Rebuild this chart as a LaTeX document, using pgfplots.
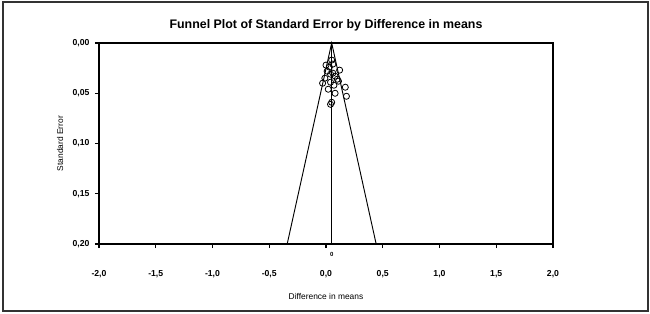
\documentclass[border=0pt]{standalone}
\usepackage{pgfplots}
\pgfplotsset{compat=1.18}
\usepackage{fontspec}
\setmainfont{Liberation Sans}
\begin{document}
\begin{tikzpicture}[x=0.75pt,y=0.75pt]
\begin{axis}[
  at={(0,0)}, anchor=south west,
  scale only axis,
  width=340.5pt, height=150.75pt,
  xmin=-2, xmax=2, ymin=0, ymax=0.2,
  y dir=reverse,
  axis line style={line width=1.1pt},
  xtick={-2,-1.5,...,2},
  ytick={0,0.05,0.1,0.15,0.2},
  tick align=outside,
  major tick length=3pt,
  tick style={black, line width=0.8pt},
  xtick pos=bottom, ytick pos=left,
  /pgf/number format/assume math mode=true,
  xticklabel style={font=\fontsize{6.5}{7}\selectfont\bfseries, anchor=center, yshift=-19.5pt,
    /pgf/number format/.cd, fixed, fixed zerofill, precision=1, use comma},
  yticklabel style={font=\fontsize{6.5}{7}\selectfont\bfseries, anchor=east, inner sep=0pt, xshift=-4pt,
    /pgf/number format/.cd, fixed, fixed zerofill, precision=2, use comma},
  scaled y ticks=false,
  xlabel={Difference in means},
  ylabel={Standard Error},
  xlabel style={font=\fontsize{6.3}{7}\selectfont, at={([yshift=-39pt]axis description cs:0.5,0)}, anchor=center},
  ylabel style={font=\fontsize{6.3}{7}\selectfont, at={([xshift=-29.25pt]axis description cs:0,0.5)}, anchor=center},
  title={Funnel Plot of Standard Error by Difference in means},
  title style={font=\fontsize{9.3}{10}\selectfont\bfseries, at={(axis description cs:0.5,1)}, anchor=center, yshift=7.5pt},
  clip=false,
]
\addplot[black, line width=0.7pt] coordinates {(-0.342,0.2) (0.05,0) (0.442,0.2)};
\addplot[black, line width=0.9pt] coordinates {(0.05,0) (0.05,0.2)};
\addplot[only marks, mark=o, mark size=2.3pt, mark options={black, line width=0.6pt}] coordinates {
(0.05,0.017) (0.00,0.022) (0.06,0.021) (0.03,0.024) (0.12,0.027) (0.01,0.028)
(0.04,0.031) (0.08,0.033) (0.06,0.030) (-0.01,0.035) (0.10,0.036) (-0.03,0.040)
(0.04,0.039) (0.11,0.038) (0.07,0.042) (0.17,0.044) (0.02,0.046) (0.08,0.050)
(0.18,0.053) (0.05,0.059) (0.04,0.061)
};
\node[font=\fontsize{4.5}{5}\selectfont\bfseries, anchor=north] at (axis cs:0.05,0.2) [yshift=-3pt] {0};
\end{axis}
\draw[line width=1.1pt, black!80] (-96,-67) rectangle (549,242);
\useasboundingbox (-99,-70) rectangle (551,244);
\end{tikzpicture}
\end{document}
